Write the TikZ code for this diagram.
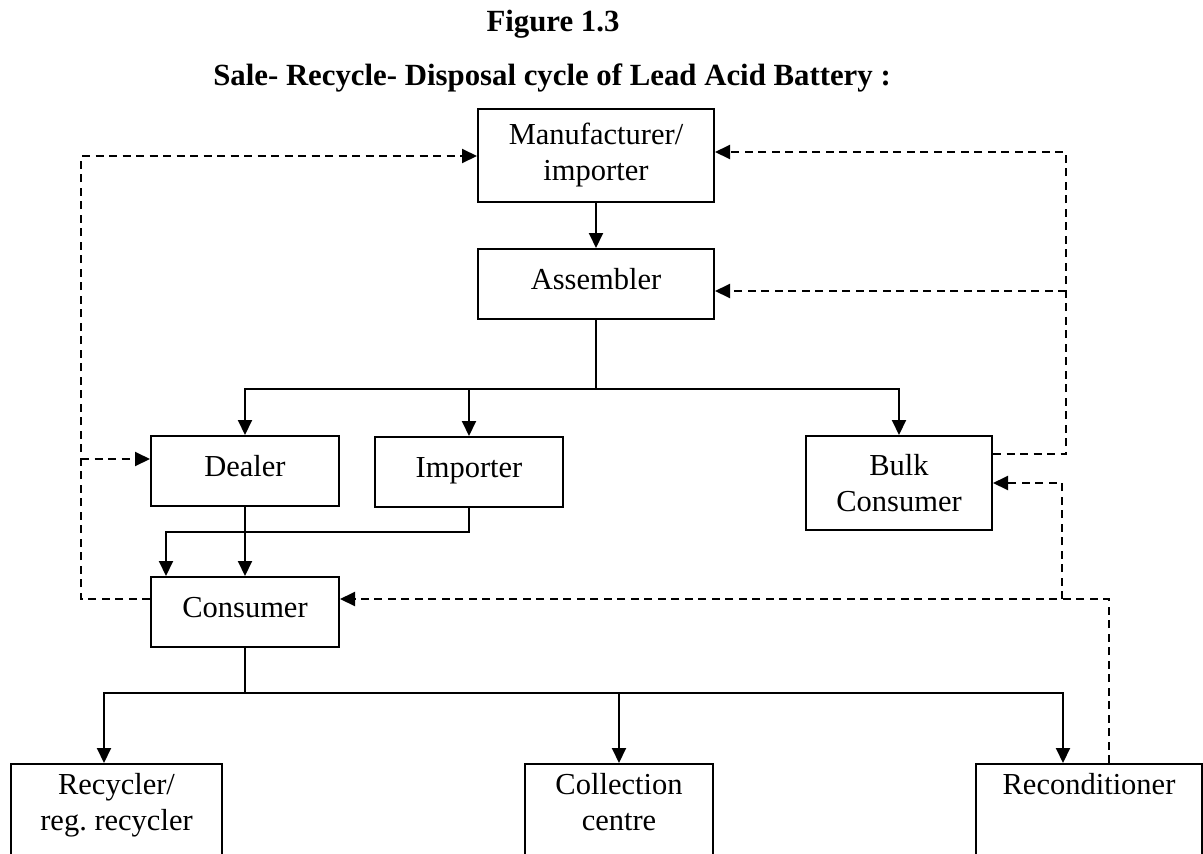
\documentclass[tikz,border=0pt]{standalone}
\usepackage{fontspec}
\setmainfont{Liberation Serif}
\usetikzlibrary{arrows.meta}
\begin{document}
\frenchspacing
\begin{tikzpicture}[x=1pt,y=-1pt,
  box/.style={draw, line width=2pt, rectangle, inner sep=0pt, align=center, font=\fontsize{30.5}{36}\selectfont},
  one/.style={text height=21pt, text depth=10pt},
  bot/.style={box, anchor=north, inner xsep=0pt, inner ysep=9pt, text depth=110pt},
  conn/.style={line width=2pt, -{Triangle[length=15pt,width=14pt]}},
  plain/.style={line width=2pt},
  dsh/.style={dash pattern=on 8pt off 5.5pt},
  ttl/.style={font=\fontsize{30.8}{36}\selectfont\bfseries, anchor=base, inner sep=0pt}]
\useasboundingbox (0,0) rectangle (1203,854);
\clip (0,0) rectangle (1203,854);
\fill[white] (0,0) rectangle (1203,854);

% titles
\node[ttl] (t1) at (553,31) {Figure 1.3};
\node[ttl] (t2) at (552,85) {Sale- Recycle- Disposal cycle of Lead Acid Battery :};

% boxes
\node[box, minimum width=236pt, minimum height=93pt] (manu) at (596,155.5) {Manufacturer/\\importer};
\node[box, one, minimum width=236pt, minimum height=70pt] (asm) at (596,284) {Assembler};
\node[box, one, minimum width=188pt, minimum height=70pt] (dealer) at (245,471) {Dealer};
\node[box, one, minimum width=188pt, minimum height=70pt] (importer) at (469,472) {Importer};
\node[box, minimum width=186pt, minimum height=94pt] (bulk) at (899,483) {Bulk\\Consumer};
\node[box, one, minimum width=188pt, minimum height=70pt] (consumer) at (245,612) {Consumer};
\node[bot, minimum width=211pt] (recyc) at (116.5,763) {Recycler/\\reg.\ recycler};
\node[bot, minimum width=188pt] (collect) at (619,763) {Collection\\centre};
\node[bot, minimum width=226pt] (recon) at (1089,763) {Reconditioner};

% junctions
\coordinate (j1) at (596,389);
\coordinate (j2) at (245,693);
\coordinate (j4) at (166,532);
\coordinate (lcol) at (81,156);
\coordinate (rcol) at (1066,152);
\coordinate (j3) at (1062,599);
\coordinate (dw) at ([yshift=12pt]dealer.west);
\coordinate (ae) at ([yshift=-7pt]asm.east);
\coordinate (ce) at ([yshift=13pt]consumer.east);
\coordinate (cw) at ([yshift=13pt]consumer.west);
\coordinate (be) at ([yshift=29pt]bulk.east);

% solid connectors
\draw[conn] (manu.south) -- (asm.north);
\draw[plain] (asm.south) -- (j1);
\draw[conn] (j1) -| (dealer.north);
\draw[conn] (j1) -| (bulk.north);
\draw[conn] (importer.north |- j1) -- (importer.north);
\draw[conn] (dealer.south) -- (consumer.north);
\draw[conn] (importer.south) |- (j4) -- (j4 |- consumer.north);
\draw[plain] (consumer.south) -- (j2);
\draw[conn] (j2) -| ([xshift=-12.5pt]recyc.north);
\draw[conn] (collect.north |- j2) -- (collect.north);
\draw[conn] (j2) -| ([xshift=-26pt]recon.north);

% dashed connectors
\draw[conn, dsh] (cw) -| (lcol) -- (lcol -| manu.west);
\draw[conn, dsh] (lcol |- dw) -- (dw);
\draw[conn, dsh] (be) -| (rcol) -- (rcol -| manu.east);
\draw[conn, dsh] (rcol |- ae) -- (ae);
\draw[conn, dsh] ([xshift=20pt]recon.north) |- (ce);
\draw[conn, dsh] (j3) |- (bulk.east);
\end{tikzpicture}
\end{document}
